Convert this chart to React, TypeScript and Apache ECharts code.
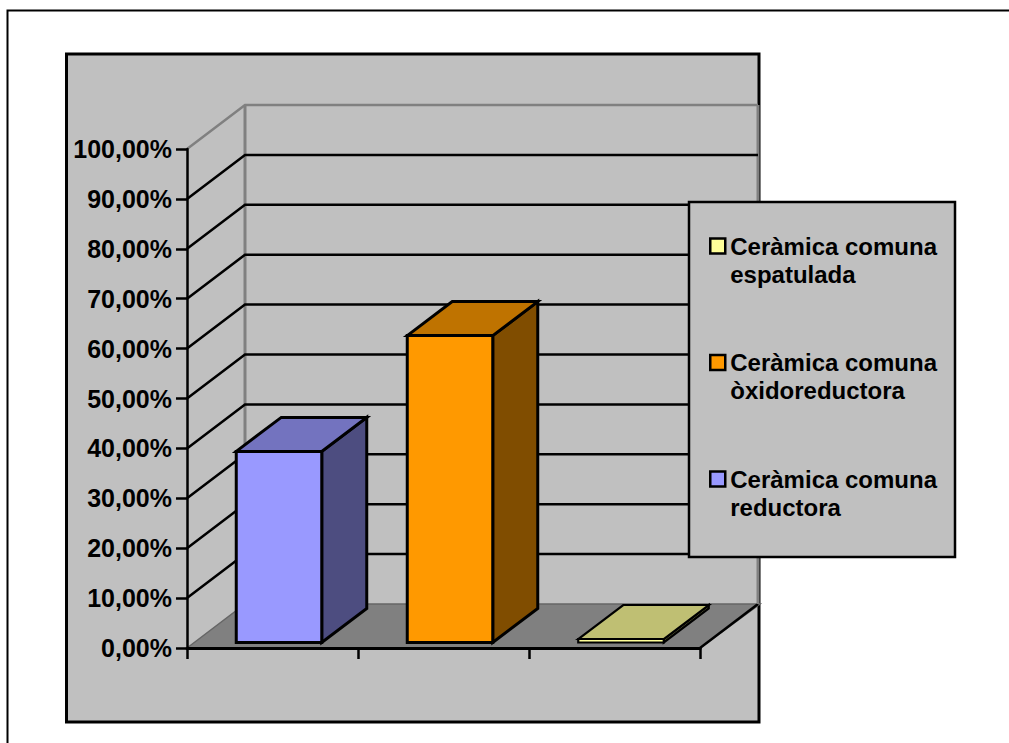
import React, { useEffect, useRef } from "react";
import * as echarts from "echarts";

const categories = ["Ceràmica comuna reductora", "Ceràmica comuna òxidoreductora", "Ceràmica comuna espatulada"];
const reductora = [38.3];
const oxidoreductora = [61.5];
const espatulada = [0.7];
const gridValues = [0, 10, 20, 30, 40, 50, 60, 70, 80, 90, 100];
const legendNames = ["Ceràmica comuna espatulada", "Ceràmica comuna òxidoreductora", "Ceràmica comuna reductora"];
const legendLines: Record<string, string[]> = {
  "Ceràmica comuna espatulada": ["Ceràmica comuna", "espatulada"],
  "Ceràmica comuna òxidoreductora": ["Ceràmica comuna", "òxidoreductora"],
  "Ceràmica comuna reductora": ["Ceràmica comuna", "reductora"],
};

const FONT = '"Liberation Sans", Arial, sans-serif';
const WALL_DX = 58;
const WALL_DY = -44;
const BAR_DX = 45;
const BAR_DY = -34;
const BAR_OFF_X = 6.5;
const BAR_OFF_Y = -5.5;

function poly(points: number[][], fill: string, stroke: string, lineWidth: number) {
  return { type: "polygon", shape: { points }, style: { fill, stroke, lineWidth, lineJoin: "miter" } };
}

function barSeries(name: string, catIndex: number, values: number[], front: string, top: string, side: string, lw: number) {
  return {
    type: "custom",
    name,
    z: 2,
    clip: false,
    itemStyle: { color: front },
    data: values.map((v) => [catIndex, v]),
    renderItem: (_p: any, api: any) => {
      const [cx, vy] = api.coord([api.value(0), api.value(1)]);
      const [, by] = api.coord([api.value(0), 0]);
      const w = api.size([1, 0])[0] / 2;
      const x0 = cx - w / 2 + BAR_OFF_X;
      const x1 = x0 + w;
      const yt = vy + BAR_OFF_Y;
      const yb = by + BAR_OFF_Y;
      return {
        type: "group",
        children: [
          poly([[x1, yt], [x1 + BAR_DX, yt + BAR_DY], [x1 + BAR_DX, yb + BAR_DY], [x1, yb]], side, "#000", lw),
          poly([[x0, yt], [x0 + BAR_DX, yt + BAR_DY], [x1 + BAR_DX, yt + BAR_DY], [x1, yt]], top, "#000", lw),
          poly([[x0, yt], [x1, yt], [x1, yb], [x0, yb]], front, "#000", lw),
        ],
      };
    },
  };
}

export default function App() {
  const ref = useRef<HTMLDivElement>(null);
  useEffect(() => {
    const chart = echarts.init(ref.current!, undefined, { renderer: "svg" });
    chart.setOption({
      animation: false,
      backgroundColor: "#fff",
      textStyle: { fontFamily: FONT },
      graphic: [
        { type: "rect", z: -10, shape: { x: 7.5, y: 10.5, width: 1040, height: 760 }, style: { fill: "#fff", stroke: "#000", lineWidth: 2 } },
        { type: "rect", z: -9, shape: { x: 66.5, y: 54, width: 692.5, height: 668 }, style: { fill: "#C0C0C0", stroke: "#000", lineWidth: 3 } },
      ],
      grid: { left: 187, top: 149, width: 513, height: 499 },
      xAxis: {
        type: "category",
        data: categories,
        z: 3,
        axisLine: { show: true, lineStyle: { color: "#000", width: 3 } },
        axisTick: { show: true, length: 11, interval: 0, alignWithLabel: false, lineStyle: { color: "#000", width: 2.5 } },
        axisLabel: { show: false, interval: 0 },
        splitLine: { show: false },
      },
      yAxis: {
        type: "value",
        min: 0,
        max: 100,
        interval: 10,
        z: 3,
        axisLine: { show: true, lineStyle: { color: "#000", width: 2.5 } },
        axisTick: { show: true, length: 11, lineStyle: { color: "#000", width: 2.5 } },
        axisLabel: {
          margin: 15,
          color: "#000",
          fontFamily: FONT,
          fontWeight: "bold",
          fontSize: 25,
          formatter: (v: number) => v.toFixed(2).replace(".", ",") + "%",
        },
        splitLine: { show: false },
      },
      legend: {
        show: true,
        data: legendNames,
        orient: "vertical",
        left: 689,
        top: 202,
        padding: [2, 18, 36, 20],
        itemGap: 32.5,
        itemWidth: 15,
        itemHeight: 15,
        icon: "rect",
        backgroundColor: "#C0C0C0",
        borderColor: "#000",
        borderWidth: 2.5,
        itemStyle: { borderColor: "#000", borderWidth: 2.5 },
        textStyle: { color: "#000", fontFamily: FONT, fontWeight: "bold", fontSize: 24, lineHeight: 28 },
        formatter: (name: string) => "\n" + legendLines[name].join("\n"),
      },
      series: [
        {
          type: "custom",
          name: "parets",
          z: 1,
          silent: true,
          clip: false,
          data: gridValues.map((v) => [0, v]),
          renderItem: (params: any, api: any) => {
            const cs = params.coordSys;
            const v = api.value(1);
            const [, y] = api.coord([0, v]);
            const x0 = cs.x;
            const x1 = cs.x + cs.width;
            const backX = x0 + WALL_DX;
            const backY = y + WALL_DY;
            if (v === 0) {
              return {
                type: "group",
                children: [
                  poly([[x0, y], [backX, backY], [x1 + WALL_DX + 2, backY], [x1, y]], "#808080", "#666", 1.5),
                  { type: "line", shape: { x1: x1, y1: y, x2: x1 + WALL_DX, y2: backY }, style: { stroke: "#000", lineWidth: 2.5 } },
                  { type: "line", shape: { x1: backX, y1: backY, x2: backX, y2: cs.y + WALL_DY }, style: { stroke: "#808080", lineWidth: 3 } },
                  { type: "line", shape: { x1: x1 + WALL_DX, y1: backY, x2: x1 + WALL_DX, y2: cs.y + WALL_DY }, style: { stroke: "#808080", lineWidth: 3 } },
                ],
              };
            }
            return {
              type: "polyline",
              shape: { points: [[x0, y], [backX, backY], [x1 + WALL_DX, backY]] },
              style: { fill: "none", stroke: v === 100 ? "#808080" : "#000", lineWidth: 2.5 },
            };
          },
        },
        barSeries(categories[0], 0, reductora, "#9999FF", "#7373BF", "#4D4D80", 3),
        barSeries(categories[1], 1, oxidoreductora, "#FF9900", "#BF7300", "#804D00", 3),
        barSeries(categories[2], 2, espatulada, "#FFFF99", "#BFBF73", "#80804D", 2.2),
      ],
    });
    return () => chart.dispose();
  }, []);
  return <div ref={ref} style={{ position: "absolute", left: 0, top: 0, width: 1009, height: 743 }} />;
}
